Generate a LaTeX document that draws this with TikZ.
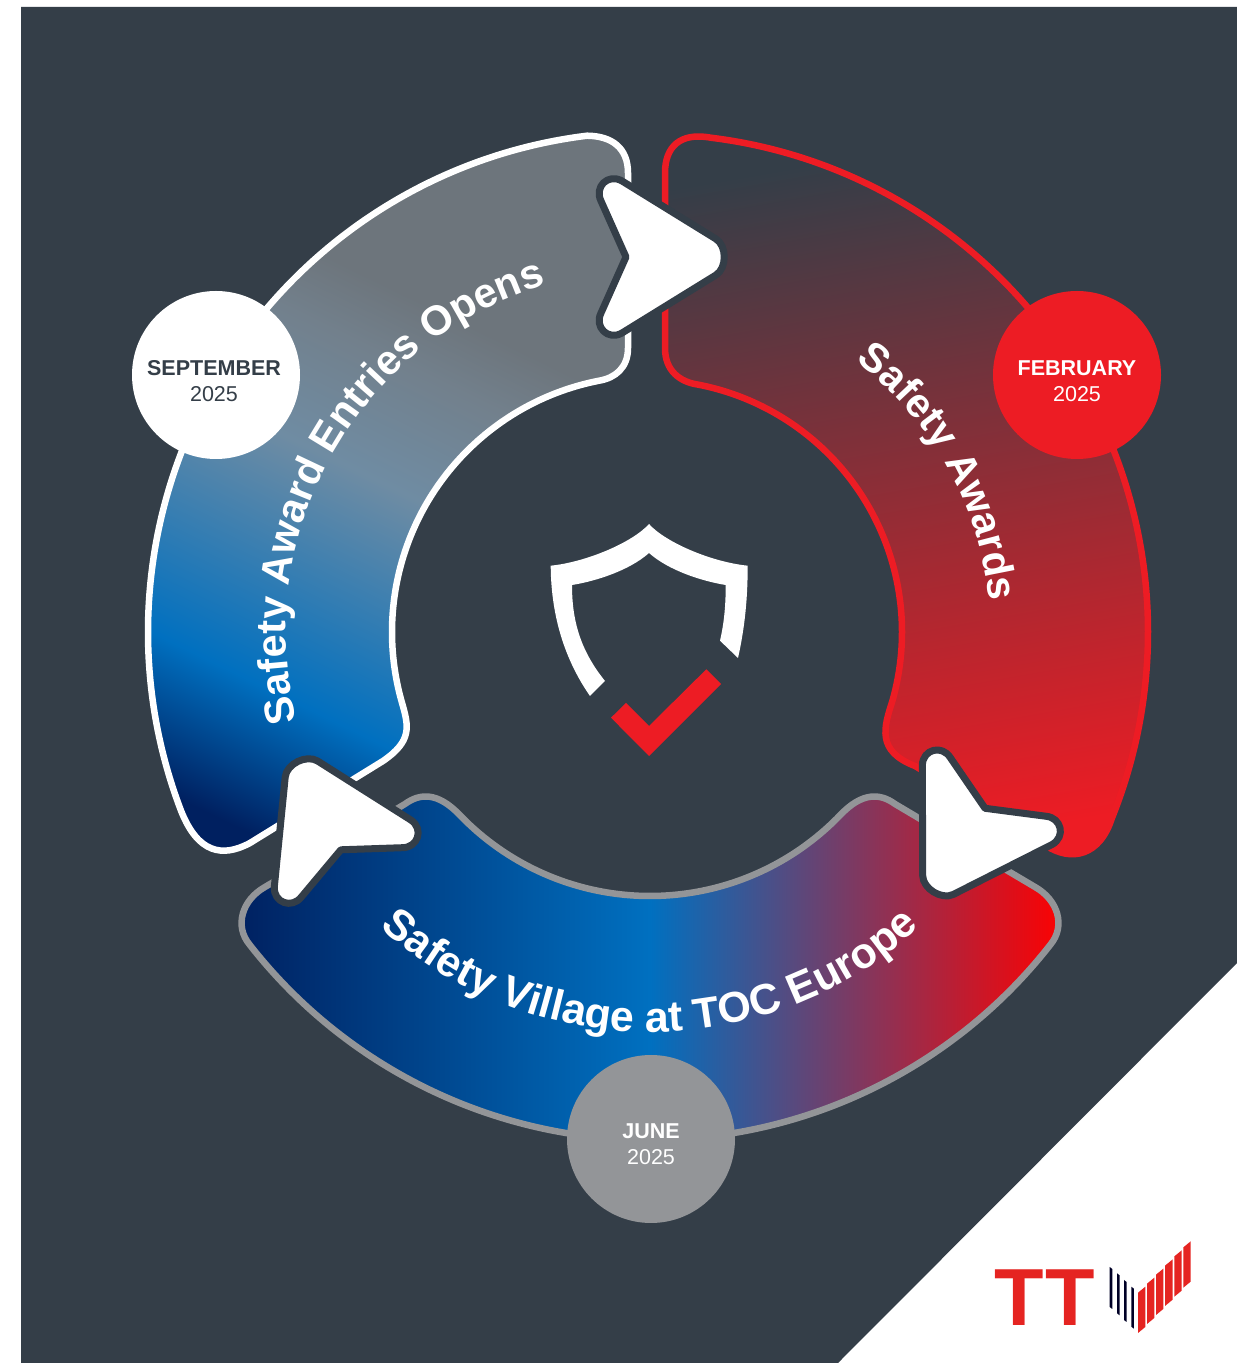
\documentclass[tikz,border=0pt]{standalone}
\usepackage{fontspec}
\setmainfont{Liberation Sans}
\usetikzlibrary{calc,decorations.text}

\definecolor{slate}{HTML}{343E48}
\definecolor{ttred}{HTML}{ED1C24}
\definecolor{logored}{HTML}{E52421}
\definecolor{midgrey}{HTML}{939598}
\definecolor{navy}{HTML}{002060}
\definecolor{midblue}{HTML}{0070C0}
\definecolor{steel}{HTML}{6F8CA3}
\definecolor{ashgrey}{HTML}{72808C}
\definecolor{darkgrey}{HTML}{6D757C}

\pgfdeclareverticalshading{entriesfill}{100bp}{color(0bp)=(navy); color(22bp)=(navy); color(32.7bp)=(midblue); color(51bp)=(steel); color(60bp)=(ashgrey); color(65bp)=(darkgrey); color(100bp)=(darkgrey)}

\tikzset{
  stagefill/.style={line width=6.5,line join=round},
  datedot/.style={circle,minimum size=168,inner sep=0},
  datetext/.style={align=center,font=\fontsize{21.5}{26}\selectfont},
  flowarrow/.style={fill=white,draw=slate,line width=7,line join=round},
  curvedlabel/.style={decorate,decoration={text along path,text color=white,text align=center,text={#1}}}
}
\newcommand{\labelfont}[1]{\fontsize{#1}{#1}\selectfont\bfseries}

\begin{document}
\begin{tikzpicture}[x=1pt,y=1pt]
\path[use as bounding box,fill=white] (0,0) rectangle (1237,1363);
\fill[slate] (21,0) -- (21,1356) -- (1237,1356) -- (1237,400) -- (838,0) -- cycle;

\coordinate (cl) at (648,731);
\coordinate (cr) at (650,731);
\coordinate (cb) at (650,731);

\shade[stagefill,draw=white,shading=entriesfill,shading angle=-26]
  ($(cl)+(97:500)$) arc[start angle=97,end angle=201,radius=500]
  .. controls (198,510) and (222,505) .. (250,520) -- (383,602)
  .. controls (412,622) and (409,636) .. ($(cl)+(196:256)$) arc[start angle=196,end angle=101,radius=256]
  .. controls (615,985) and (628,995) .. (628,1015) -- (628,1190)
  .. controls (628,1215) and (612,1227) .. ($(cl)+(97:500)$) -- cycle;

\shade[stagefill,draw=ttred,top color=slate,bottom color=ttred,shading angle=10]
  ($(cr)+(83:498)$) arc[start angle=83,end angle=-22,radius=498]
  .. controls (1100,508) and (1072,500) .. (1045,518) -- (915,597)
  .. controls (876,612) and (884,636) .. ($(cr)+(-16:252)$) arc[start angle=-16,end angle=79,radius=252]
  .. controls (680,981) and (665,992) .. (665,1015) -- (665,1190)
  .. controls (665,1216) and (680,1231) .. ($(cr)+(83:498)$) -- cycle;

\shade[stagefill,draw=midgrey,left color=navy,right color=red,middle color=midblue]
  ($(cb)+(218:508)$) arc[start angle=218,end angle=322,radius=508]
  .. controls (1066,437) and (1058,463) .. (1035,476) -- (895,559)
  .. controls (880,570) and (862,571) .. ($(cb)+(316:264)$) arc[start angle=316,end angle=224,radius=264]
  .. controls (438,571) and (420,570) .. (405,559) -- (265,476)
  .. controls (242,463) and (234,437) .. ($(cb)+(218:508)$) -- cycle;

\path[curvedlabel={|\labelfont{41.5}|Safety Award Entries Opens}]
  ($(cl)+(200.3:362)$) arc[start angle=200.3,end angle=100.3,radius=362];
\path[curvedlabel={|\labelfont{41}|Safety Awards}]
  ($(cr)+(60:340)$) arc[start angle=60,end angle=-2,radius=340];
\path[curvedlabel={|\labelfont{43}|Safety Village at TOC Europe}]
  ($(cb)+(222:400)$) arc[start angle=222,end angle=318,radius=400];

\foreach \x/\y/\a in {628/1106/0, 984/553/238.5, 340/515/116}{
  \draw[flowarrow,shift={(\x,\y)},rotate=\a]
    (-2,0) -- (-27,56) .. controls (-34,70) and (-20,84) .. (-6,76) -- (88,18)
    .. controls (99,11) and (99,-11) .. (88,-18) -- (-6,-76)
    .. controls (-20,-84) and (-34,-70) .. (-27,-56) -- cycle;
}

\node[datedot,fill=white] (sep) at (216,988) {};
\node[datedot,fill=ttred] (feb) at (1077,988) {};
\node[datedot,fill=midgrey] (jun) at (651,224) {};
\node[datetext,text=slate] at ($(sep)+(-2,-6)$) {\textbf{SEPTEMBER}\\2025};
\node[datetext,text=white] at ($(feb)+(0,-6)$) {\textbf{FEBRUARY}\\2025};
\node[datetext,text=white] at ($(jun)+(0,-5)$) {\textbf{JUNE}\\2025};

\fill[white] (649,839) .. controls (633,821) and (587,801) .. (550.7,797.3)
  .. controls (551,743) and (567,700) .. (590,667) -- (605,682)
  .. controls (580,713) and (572,743) .. (572,778)
  .. controls (597,782) and (630,793) .. (649,810)
  .. controls (668,793) and (701,782) .. (725.7,778)
  .. controls (725.7,756) and (724,740) .. (720,722.3) -- (738,705)
  .. controls (745,736) and (747.7,766) .. (747.7,797.3)
  .. controls (711,801) and (665,821) .. cycle;
\fill[ttred] (611,645.3) -- (626,660) -- (649,637) -- (706.3,693.7) -- (721,679) -- (649,607) -- cycle;

\node[anchor=base west,inner sep=0,text=logored,font=\fontsize{81}{81}\selectfont\bfseries] (ttname) at (994.5,37) {T\kern1.5ptT};
\foreach \x/\y in {1109.7/96, 1117/89.7, 1124/83, 1131.3/76.3}{
  \fill[black!85!blue] (\x,\y) -- (\x+2.6,\y-2) -- (\x+2.6,\y-42) -- (\x,\y-40) -- cycle;
}
\foreach \i in {0,...,5}{
  \fill[logored,shift={(9.07*\i,9.07*\i)}] (1138,70.3) -- (1145.3,76.3) -- (1145.3,36) -- (1138,30) -- cycle;
}
\end{tikzpicture}
\end{document}
